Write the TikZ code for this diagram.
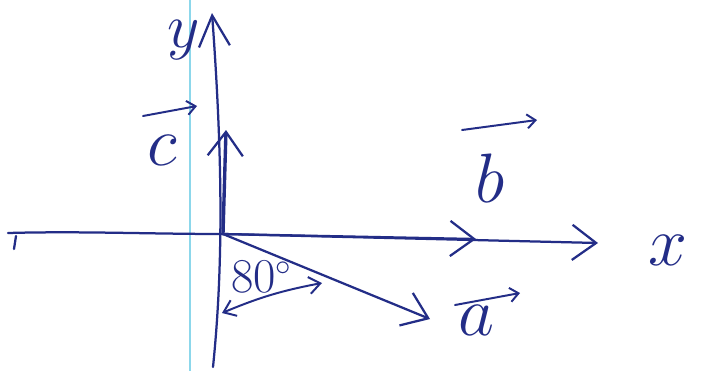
\documentclass[tikz,border=0pt]{standalone}
\usetikzlibrary{arrows.meta}
\definecolor{ink}{RGB}{35,45,135}
\definecolor{marginline}{RGB}{140,215,235}
\begin{document}
\begin{tikzpicture}[x=0.025cm,y=-0.025cm,
  pen/.style={draw=ink,line width=1.6pt,line cap=round,line join=round},
  bigtip/.style={-{Straight Barb[length=17pt,width=25pt,line width=1.6pt]}},
  ytip/.style={-{Straight Barb[length=22pt,width=22pt,line width=1.6pt]}},
  smalltip/.style={-{Straight Barb[length=6pt,width=10pt,line width=1.4pt]}},
  dbltip/.style={{Straight Barb[length=8pt,width=12pt,line width=1.4pt]}-{Straight Barb[length=8pt,width=12pt,line width=1.4pt]}},
  lbl/.style={text=ink,inner sep=0pt,font=\fontsize{24.88}{25}\selectfont,scale=2},
]
\useasboundingbox (0,0) rectangle (705,371);
\fill[white] (0,0) rectangle (705,371);
\draw[marginline,line width=0.8pt] (190,0) -- (190,371);
% points
\coordinate (O) at (223,234);
\coordinate (xs) at (8,233);
\coordinate (xe) at (598,243);
\coordinate (ys) at (213,367);
\coordinate (ye) at (212,13);
\coordinate (bend) at (476,239);
\coordinate (cend) at (226,130);
\coordinate (aend) at (430,319);
\coordinate (ang1) at (222,313);
\coordinate (ang2) at (322,283);
% axes
\draw[pen] (xs) .. controls (80,231) and (150,234) .. (O);
\draw[pen,bigtip] (O) -- (xe);
\draw[pen] (16,236) -- (14,249);
\draw[pen,ytip] (ys) .. controls (224,260) and (222,150) .. (ye);
% vectors
\draw[pen,bigtip] (O) -- (bend);
\draw[pen,line width=2.4pt,bigtip] (O) -- (cend);
\draw[pen,bigtip] (O) -- (aend);
% angle
\draw[pen,line width=1.4pt,dbltip] (ang1) to[bend left=6] (ang2);
% labels
\node[lbl,scale=0.9] (ylab) at (184,40) {$y$};
\node[lbl] (xlab) at (668,250) {$x$};
\node[lbl] (clab) at (162,150) {$c$};
\node[lbl] (blab) at (490,178) {$b$};
\node[lbl] (alab) at (476,320) {$a$};
\node[text=ink,inner sep=0pt,font=\fontsize{16}{16}\selectfont,scale=2] (anglab) at (262,277) {$80^\circ$};
% over-arrows
\draw[pen,line width=1.4pt,smalltip] ([shift={(-19,-34)}]clab.center) -- ([shift={(35,-44)}]clab.center);
\draw[pen,line width=1.4pt,smalltip] ([shift={(-28,-48)}]blab.center) -- ([shift={(47,-58)}]blab.center);
\draw[pen,line width=1.4pt,smalltip] ([shift={(-21,-15)}]alab.center) -- ([shift={(44,-27)}]alab.center);
\end{tikzpicture}
\end{document}
